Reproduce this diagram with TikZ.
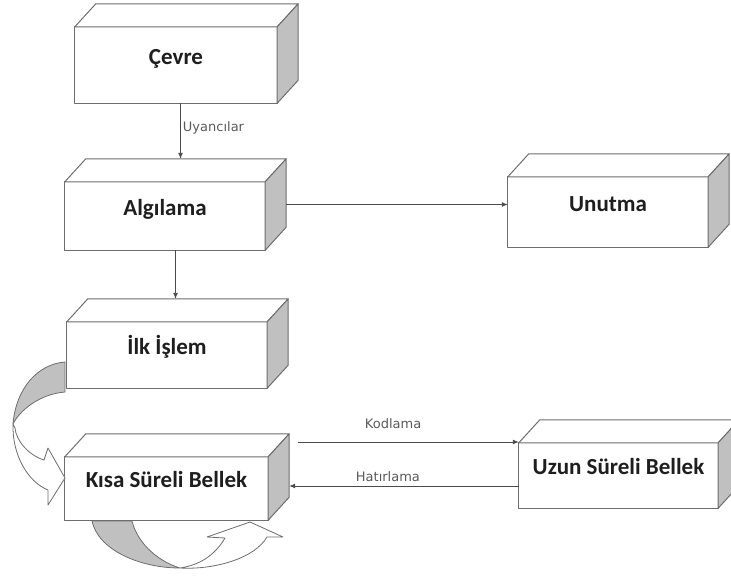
\documentclass[tikz,border=0pt]{standalone}
\usepackage{fontspec}
\setmainfont{Carlito}
\newfontfamily\labfont{DejaVu Sans}
\usetikzlibrary{calc,arrows.meta,backgrounds}
\definecolor{edge}{HTML}{6E6E6E}
\definecolor{side}{HTML}{C0C0C0}
\definecolor{ink}{HTML}{1E1E1E}
\definecolor{wire}{HTML}{4A4A4A}
\definecolor{labgray}{HTML}{5A5A5A}
\tikzset{
  box/.style 2 args={minimum width=#1pt, minimum height=#2pt, inner sep=0pt, text=ink,
    text height=21pt, text depth=0pt, execute at begin node={\hspace*{-21pt}},
    font=\bfseries\fontsize{23}{27}\selectfont},
  face/.style={draw=edge, fill=white, line width=1pt, line join=round},
  sideface/.style={draw=edge, fill=side, line width=1pt, line join=round},
  arr/.style={draw=wire, line width=0.9pt, -{Latex[length=6pt,width=5pt]}},
  lab/.style={text=labgray, font=\labfont\fontsize{13}{15}\selectfont, inner sep=2pt},
  blk/.style={draw=edge, line width=0.8pt, line join=round},
}
\begin{document}
\begin{tikzpicture}[x=1pt,y=-1pt]
  \def\dx{21pt}
  \def\dy{23pt}
  \useasboundingbox (0,0) rectangle (731,576);
  \node[box={223}{99}] (cev) at (186.5,53.5) {Çevre};
  \node[box={221}{91}] (alg) at (175.5,204.5) {Algılama};
  \node[box={221}{93}] (unu) at (618.5,200.5) {Unutma};
  \node[box={221}{89}] (ilk) at (177.5,343.5) {İlk İşlem};
  \node[box={224}{86}] (kisa) at (177,477) {Kısa Süreli Bellek};
  \node[box={220}{88}] (uzun) at (629,464) {Uzun Süreli Bellek};
  % 3d faces behind the texts
  \begin{scope}[on background layer]
    \foreach \n in {cev,alg,unu,ilk,kisa,uzun}{
      \draw[face] ([yshift=-\dy]\n.north west) rectangle ([xshift=-\dx]\n.south east);
      \draw[face] ([yshift=-\dy]\n.north west) -- ([xshift=\dx]\n.north west) -- (\n.north east) -- ([shift={(-\dx,-\dy)}]\n.north east) -- cycle;
      \draw[sideface] ([shift={(-\dx,-\dy)}]\n.north east) -- (\n.north east) -- ([yshift=\dy]\n.south east) -- ([xshift=-\dx]\n.south east) -- cycle;
    }
  \end{scope}
  % connectors
  \coordinate (uya) at ([xshift=-6pt]cev.south);
  \draw[arr] (uya) -- (uya |- alg.north) node[lab,pos=.45,right] {Uyancılar};
  \draw[arr] (alg.south) -- (alg.south |- ilk.north);
  \draw[arr] (alg.east) -- (alg.east -| unu.west);
  \coordinate (kod) at ([shift={(9pt,35pt)}]kisa.east);
  \draw[arr] (kod) -- (kod -| uzun.west) node[lab,pos=.43,above=11pt] {Kodlama};
  \coordinate (hat) at ([yshift=-22pt]uzun.west);
  \draw[arr] (hat) -- (hat -| kisa.east) node[lab,pos=.57,above=2pt] {Hatırlama};
  % curved block arrows
  \filldraw[blk, fill=side] (65,362) .. controls (38,364) and (16,388) .. (13,424) .. controls (20,410) and (40,394) .. (65,392) -- cycle;
  \filldraw[blk, fill=white] (13,424) .. controls (12,455) and (28,482) .. (48,490) -- (48,505) -- (65,478) -- (48,448) -- (44,460) .. controls (28,455) and (16,440) .. (15,428) -- cycle;
  \filldraw[blk, fill=side] (92,521) .. controls (98,550) and (140,568) .. (180,568) .. controls (160,562) and (138,545) .. (132,521) -- cycle;
  \filldraw[blk, fill=white] (180,568) .. controls (215,570) and (255,558) .. (267,537) -- (283,537) -- (250,522) -- (207,537) -- (225,538) .. controls (215,555) and (200,565) .. (180,568) -- cycle;
\end{tikzpicture}
\end{document}
